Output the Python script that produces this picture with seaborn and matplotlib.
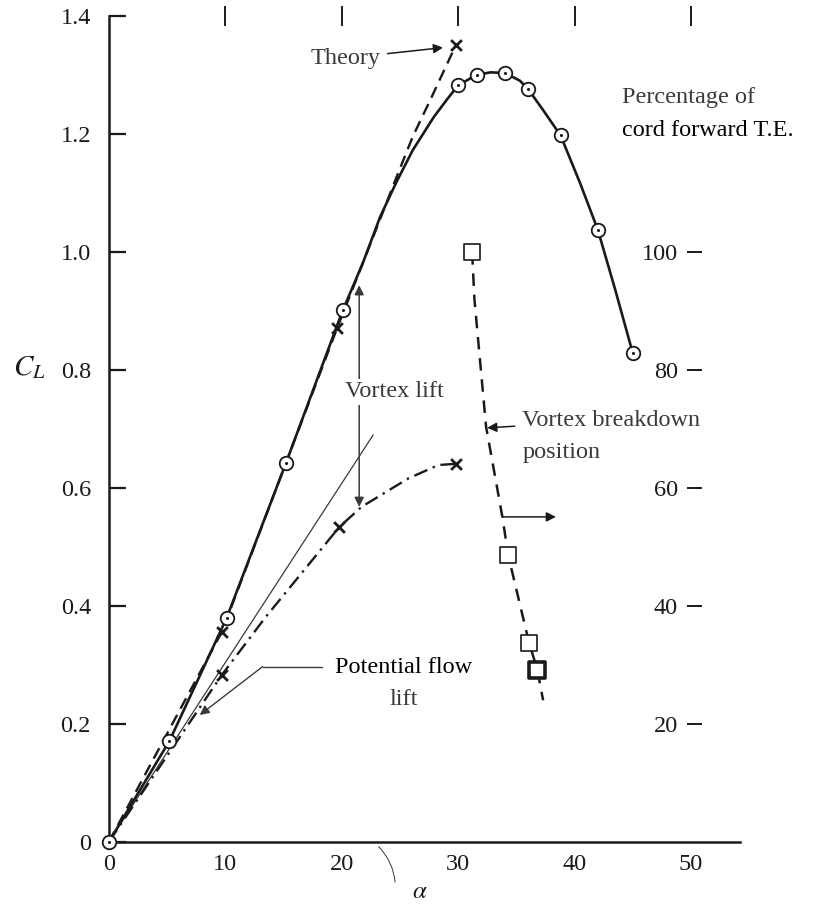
import matplotlib
matplotlib.use("Agg")
import matplotlib.pyplot as plt
import seaborn as sns

# ── data ───────────────────────────────────────────────────────────────────
# measured C_L (circled dots)
exp_alpha = [0, 5.2, 10.1, 15.2, 20.1, 30.0, 31.6, 34.0, 36.0, 38.8, 42.0, 45.0]
exp_cl    = [0, 0.171, 0.379, 0.642, 0.902, 1.283, 1.301, 1.304, 1.277, 1.198, 1.038, 0.829]
# faired curve through the measurements
exp_line_alpha = [0, 5.2, 10.1, 15.2, 20.1, 21.8, 23.3, 24.7, 26.1, 27.9, 29.0, 30.0,
                  31.6, 32.8, 34.0, 35.3, 36.0, 37.3, 38.8, 40.5, 42.0, 43.5, 45.0]
exp_line_cl    = [0, 0.171, 0.379, 0.642, 0.902, 0.981, 1.06, 1.119, 1.173, 1.229, 1.258,
                  1.283, 1.301, 1.305, 1.304, 1.291, 1.277, 1.241, 1.198, 1.116, 1.038,
                  0.936, 0.829]

# theory (dashed, x markers)
theory_alpha = [0, 9.7, 19.6, 22.7, 24.7, 26.1, 27.6, 29.8]
theory_cl    = [0, 0.356, 0.871, 1.026, 1.127, 1.196, 1.258, 1.351]
theory_mark_alpha = [9.7, 19.6, 29.8]
theory_mark_cl    = [0.356, 0.871, 1.351]

# potential flow lift (dash-dot, x markers)
pot_alpha = [0, 9.7, 13.5, 19.8, 21.7, 25.7, 28.3, 29.8]
pot_cl    = [0, 0.283, 0.382, 0.534, 0.568, 0.616, 0.639, 0.641]
pot_mark_alpha = [9.7, 19.8, 29.8]
pot_mark_cl    = [0.283, 0.534, 0.641]

# thin straight reference line
thin_alpha = [0, 22.7]
thin_cl    = [0, 0.69]

# vortex breakdown position, % of chord forward of T.E. (right scale)
vb_line_alpha = [31.2, 31.4, 32.4, 33.8, 34.3, 36.1, 36.8, 37.3]
vb_line_pct   = [100, 92, 70.4, 55.1, 48.6, 33.7, 29.2, 24]
vb_alpha = [31.2, 34.3, 36.1]
vb_pct   = [100, 48.6, 33.7]
vb_last_alpha = [36.8]
vb_last_pct   = [29.2]

cl_ticks  = [0, 0.2, 0.4, 0.6, 0.8, 1.0, 1.2, 1.4]
cl_labels = ["0", "0.2", "0.4", "0.6", "0.8", "1.0", "1.2", "1.4"]
alpha_ticks = [0, 10, 20, 30, 40, 50]
pct_ticks = [20, 40, 60, 80, 100]

INK = "#1a1a1a"
GREY = "#3a3a3a"
FS = 17.5

sns.set_style("white")
plt.rcParams["font.family"] = ["Liberation Serif", "DejaVu Serif"]
plt.rcParams["mathtext.fontset"] = "stix"

fig, ax = plt.subplots(figsize=(8.13, 9.09), dpi=100)
fig.subplots_adjust(left=0.134, right=0.910, bottom=0.074, top=0.982)

ax.set_xlim(0, 54.2)
ax.set_ylim(0, 1.4)

# ── curves ────────────────────────────────────────────────────────────────
sns.lineplot(x=exp_line_alpha, y=exp_line_cl, ax=ax, sort=False, estimator=None,
             color=INK, lw=1.9, clip_on=False, zorder=3)
sns.lineplot(x=theory_alpha, y=theory_cl, ax=ax, sort=False, estimator=None,
             color=INK, lw=1.7, linestyle=(0, (5, 3)), clip_on=False, zorder=3)
sns.lineplot(x=pot_alpha, y=pot_cl, ax=ax, sort=False, estimator=None,
             color=INK, lw=1.7, linestyle=(0, (6, 2.5, 1, 2.5)), clip_on=False, zorder=3)
sns.lineplot(x=thin_alpha, y=thin_cl, ax=ax, sort=False, estimator=None,
             color=GREY, lw=0.9, clip_on=False, zorder=2)

# markers
sns.scatterplot(x=exp_alpha, y=exp_cl, ax=ax, marker="o", s=95, facecolor="white",
                edgecolor=INK, linewidth=1.3, zorder=5, clip_on=False)
sns.scatterplot(x=exp_alpha, y=exp_cl, ax=ax, marker="o", s=5, color=INK,
                linewidth=0, zorder=6, clip_on=False)
sns.scatterplot(x=theory_mark_alpha, y=theory_mark_cl, ax=ax, marker="x", s=60,
                color=INK, linewidth=2, zorder=5, clip_on=False)
sns.scatterplot(x=pot_mark_alpha, y=pot_mark_cl, ax=ax, marker="x", s=60,
                color=INK, linewidth=2, zorder=5, clip_on=False)

# ── axes styling ──────────────────────────────────────────────────────────
for side in ["top", "right"]:
    ax.spines[side].set_visible(False)
for side in ["left", "bottom"]:
    ax.spines[side].set_color(INK)
    ax.spines[side].set_linewidth(1.8)

ax.set_yticks(cl_ticks)
ax.set_yticklabels(cl_labels)
ax.set_xticks(alpha_ticks)
ax.tick_params(axis="both", direction="in", length=12, width=1.6, color=INK,
               labelsize=FS, labelcolor=INK)
ax.tick_params(axis="y", pad=13)
ax.tick_params(axis="x", pad=9)

top = ax.secondary_xaxis("top")
top.set_xticks(alpha_ticks[1:])
top.tick_params(direction="inout", length=14, width=1.4, color=INK, labeltop=False)
top.spines["top"].set_visible(False)

# right-hand scale, drawn inside the plot near alpha = 50
ax2 = ax.twinx()
ax2.set_ylim(0, 140)
for side in ["top", "right", "bottom"]:
    ax2.spines[side].set_visible(False)
ax2.yaxis.set_ticks_position("left")
ax2.yaxis.set_label_position("left")
ax2.spines["left"].set_position(("data", 49.7))
ax2.spines["left"].set_visible(False)
ax2.set_yticks(pct_ticks)
ax2.tick_params(axis="y", direction="in", length=11, width=1.4, color=INK,
                labelsize=FS, labelcolor=INK, pad=7)

sns.lineplot(x=vb_line_alpha, y=vb_line_pct, ax=ax2, sort=False, estimator=None,
             color=INK, lw=1.8, linestyle=(0, (5, 3.5)), zorder=3)
sns.scatterplot(x=vb_alpha, y=vb_pct, ax=ax2, marker="s", s=130, facecolor="white",
                edgecolor=INK, linewidth=1.2, zorder=5)
sns.scatterplot(x=vb_last_alpha, y=vb_last_pct, ax=ax2, marker="s", s=120,
                facecolor="white", edgecolor=INK, linewidth=2.6, zorder=5)
ax2.set_xlim(0, 54.2)

# ── labels and annotations ────────────────────────────────────────────────
fig.text(0.016, 0.595, r"$C_L$", fontsize=21, color=INK, ha="left", va="center")
ax.text(26.7, -0.086, r"$\alpha$", fontsize=18, color=INK, ha="center", va="center")
ax.annotate("", xy=(24.6, -0.073), xytext=(23.0, -0.005),
            arrowprops=dict(arrowstyle="-", color=GREY, lw=0.7,
                            connectionstyle="arc3,rad=-0.2"),
            annotation_clip=False)

arrow_kw = dict(arrowstyle="-|>", color=INK, lw=1.1, mutation_scale=14,
                shrinkA=3, shrinkB=0)

ax.annotate("Theory", xy=(28.7, 1.347), xytext=(23.3, 1.329), fontsize=FS,
            color=GREY, ha="right", va="center", arrowprops=arrow_kw)

ax.text(44.1, 1.263, "Percentage of", fontsize=FS, color=GREY, ha="left", va="center")
ax.text(44.1, 1.207, "cord forward T.E.", fontsize=FS, color="black", ha="left",
        va="center")

ax.annotate("", xy=(21.5, 0.944), xytext=(21.5, 0.568),
            arrowprops=dict(arrowstyle="<|-|>", color=GREY, lw=1.1,
                            mutation_scale=14, shrinkA=0, shrinkB=0), zorder=4)
ax.text(20.3, 0.763, "Vortex lift", fontsize=FS, color=GREY, ha="left", va="center",
        zorder=7, bbox=dict(facecolor="white", edgecolor="none", pad=1.5))

ax.annotate("Vortex breakdown", xy=(32.5, 0.702), xytext=(35.5, 0.715), fontsize=FS,
            color=GREY, ha="left", va="center", arrowprops=arrow_kw)
ax.text(35.5, 0.661, "position", fontsize=FS, color=GREY, ha="left", va="center")
ax.annotate("", xy=(38.4, 0.551), xytext=(33.8, 0.551),
            arrowprops=dict(arrowstyle="-|>", color=INK, lw=1.1, mutation_scale=14,
                            shrinkA=0, shrinkB=0))

ax.text(25.3, 0.295, "Potential flow", fontsize=FS, color="black", ha="center",
        va="center")
ax.text(25.3, 0.241, "lift", fontsize=FS, color=GREY, ha="center", va="center")
ax.plot([13.2, 18.3], [0.297, 0.297], color=GREY, lw=1.0)
ax.annotate("", xy=(7.8, 0.215), xytext=(13.2, 0.297),
            arrowprops=dict(arrowstyle="-|>", color=GREY, lw=1.0, mutation_scale=14,
                            shrinkA=0, shrinkB=0))

fig.savefig("out.png", dpi=100, facecolor="white")
